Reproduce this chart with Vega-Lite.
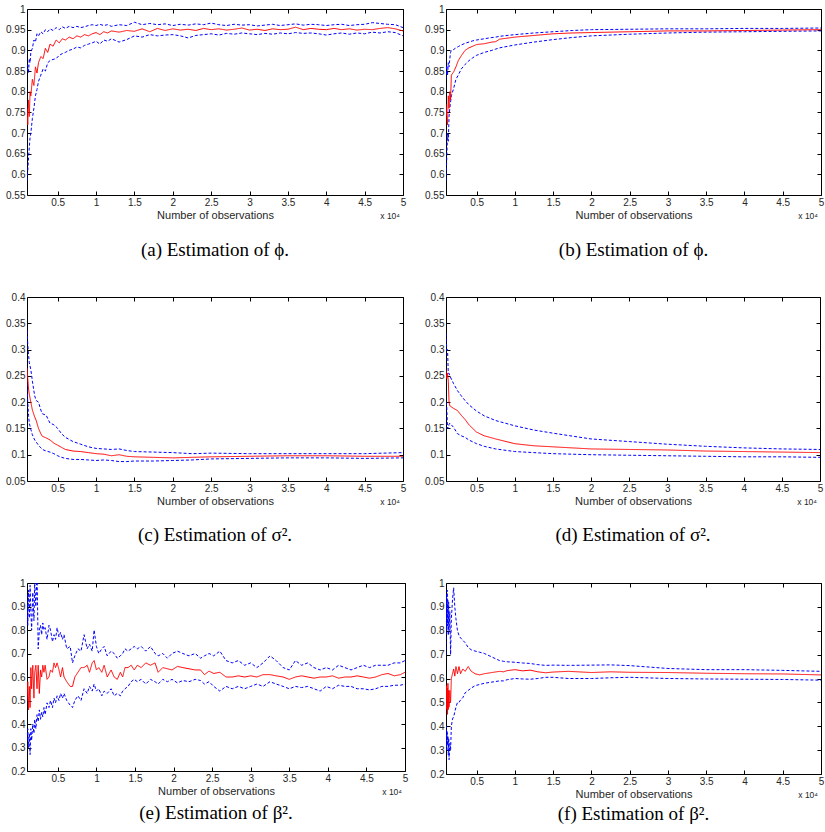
{
"$schema": "https://vega.github.io/schema/vega-lite/v6.json",
"padding": {"left": 5, "top": 3, "right": 2, "bottom": 2},
"background": "white",
"datasets": {
"a": [
{"n":1000,"m":0.760,"hi":0.850,"lo":0.585},{"n":1100,"m":0.720,"hi":0.865,"lo":0.610},{"n":1200,"m":0.780,"hi":0.845,"lo":0.640},{"n":1300,"m":0.740,"hi":0.880,"lo":0.665},{"n":1400,"m":0.800,"hi":0.870,"lo":0.690},{"n":1500,"m":0.790,"hi":0.895,"lo":0.700},{"n":1700,"m":0.830,"hi":0.905,"lo":0.735},{"n":1900,"m":0.815,"hi":0.925,"lo":0.760},{"n":2100,"m":0.860,"hi":0.920,"lo":0.790},{"n":2300,"m":0.845,"hi":0.940,"lo":0.805},{"n":2500,"m":0.870,"hi":0.935,"lo":0.825},{"n":2800,"m":0.885,"hi":0.945,"lo":0.840},{"n":3100,"m":0.880,"hi":0.940,"lo":0.855},{"n":3400,"m":0.905,"hi":0.950,"lo":0.850},{"n":3700,"m":0.895,"hi":0.945,"lo":0.870},{"n":4000,"m":0.915,"hi":0.952,"lo":0.875},{"n":4400,"m":0.910,"hi":0.948,"lo":0.878},{"n":4800,"m":0.925,"hi":0.955,"lo":0.880},{"n":5200,"m":0.918,"hi":0.950,"lo":0.888},{"n":5600,"m":0.928,"hi":0.957,"lo":0.892},{"n":6000,"m":0.925,"hi":0.953,"lo":0.895},{"n":6500,"m":0.932,"hi":0.958,"lo":0.900},{"n":7000,"m":0.928,"hi":0.955,"lo":0.903},{"n":7500,"m":0.935,"hi":0.958,"lo":0.908},{"n":8000,"m":0.932,"hi":0.955,"lo":0.906},{"n":8500,"m":0.938,"hi":0.957,"lo":0.912},{"n":9000,"m":0.935,"hi":0.960,"lo":0.915},{"n":9500,"m":0.940,"hi":0.962,"lo":0.918},{"n":10000,"m":0.943,"hi":0.960,"lo":0.922},{"n":10500,"m":0.938,"hi":0.963,"lo":0.915},{"n":11000,"m":0.945,"hi":0.960,"lo":0.925},{"n":11500,"m":0.942,"hi":0.962,"lo":0.922},{"n":12000,"m":0.947,"hi":0.958,"lo":0.928},{"n":13000,"m":0.944,"hi":0.962,"lo":0.920},{"n":14000,"m":0.948,"hi":0.960,"lo":0.926},{"n":15000,"m":0.946,"hi":0.968,"lo":0.935},{"n":16000,"m":0.952,"hi":0.962,"lo":0.932},{"n":17000,"m":0.945,"hi":0.965,"lo":0.938},{"n":18000,"m":0.953,"hi":0.962,"lo":0.935},{"n":19000,"m":0.948,"hi":0.964,"lo":0.937},{"n":20000,"m":0.952,"hi":0.960,"lo":0.938},{"n":21000,"m":0.949,"hi":0.963,"lo":0.935},{"n":22000,"m":0.951,"hi":0.961,"lo":0.930},{"n":23000,"m":0.948,"hi":0.964,"lo":0.936},{"n":24000,"m":0.953,"hi":0.962,"lo":0.938},{"n":25000,"m":0.950,"hi":0.966,"lo":0.940},{"n":26000,"m":0.952,"hi":0.962,"lo":0.937},{"n":27000,"m":0.949,"hi":0.960,"lo":0.941},{"n":28000,"m":0.951,"hi":0.963,"lo":0.939},{"n":29000,"m":0.954,"hi":0.961,"lo":0.942},{"n":30000,"m":0.949,"hi":0.962,"lo":0.940},{"n":31000,"m":0.951,"hi":0.959,"lo":0.938},{"n":32000,"m":0.948,"hi":0.961,"lo":0.941},{"n":33000,"m":0.952,"hi":0.963,"lo":0.939},{"n":34000,"m":0.950,"hi":0.960,"lo":0.942},{"n":35000,"m":0.951,"hi":0.962,"lo":0.940},{"n":36000,"m":0.956,"hi":0.964,"lo":0.943},{"n":37000,"m":0.950,"hi":0.961,"lo":0.941},{"n":38000,"m":0.953,"hi":0.963,"lo":0.942},{"n":39000,"m":0.951,"hi":0.962,"lo":0.940},{"n":40000,"m":0.950,"hi":0.960,"lo":0.937},{"n":41000,"m":0.953,"hi":0.962,"lo":0.940},{"n":42000,"m":0.950,"hi":0.963,"lo":0.942},{"n":43000,"m":0.952,"hi":0.960,"lo":0.939},{"n":44000,"m":0.949,"hi":0.962,"lo":0.942},{"n":45000,"m":0.951,"hi":0.963,"lo":0.940},{"n":46000,"m":0.950,"hi":0.967,"lo":0.944},{"n":47000,"m":0.953,"hi":0.965,"lo":0.942},{"n":48000,"m":0.955,"hi":0.963,"lo":0.945},{"n":49000,"m":0.952,"hi":0.962,"lo":0.943},{"n":50000,"m":0.947,"hi":0.955,"lo":0.935}
],
"b": [
{"n":1000,"m":0.770,"hi":0.830,"lo":0.585},{"n":1100,"m":0.740,"hi":0.865,"lo":0.640},{"n":1200,"m":0.720,"hi":0.840,"lo":0.700},{"n":1300,"m":0.790,"hi":0.870,"lo":0.680},{"n":1400,"m":0.760,"hi":0.860,"lo":0.740},{"n":1500,"m":0.800,"hi":0.880,"lo":0.760},{"n":1600,"m":0.780,"hi":0.895,"lo":0.775},{"n":1700,"m":0.840,"hi":0.900,"lo":0.790},{"n":2000,"m":0.848,"hi":0.902,"lo":0.808},{"n":2300,"m":0.860,"hi":0.906,"lo":0.830},{"n":2600,"m":0.875,"hi":0.909,"lo":0.840},{"n":3000,"m":0.887,"hi":0.913,"lo":0.855},{"n":3500,"m":0.900,"hi":0.917,"lo":0.866},{"n":4000,"m":0.906,"hi":0.920,"lo":0.875},{"n":4500,"m":0.910,"hi":0.923,"lo":0.882},{"n":5000,"m":0.914,"hi":0.925,"lo":0.888},{"n":6000,"m":0.916,"hi":0.928,"lo":0.895},{"n":7000,"m":0.920,"hi":0.931,"lo":0.900},{"n":7500,"m":0.921,"hi":0.932,"lo":0.903},{"n":8000,"m":0.927,"hi":0.934,"lo":0.906},{"n":10000,"m":0.932,"hi":0.938,"lo":0.913},{"n":12500,"m":0.936,"hi":0.942,"lo":0.920},{"n":15000,"m":0.940,"hi":0.945,"lo":0.926},{"n":17500,"m":0.942,"hi":0.948,"lo":0.931},{"n":20000,"m":0.943,"hi":0.950,"lo":0.935},{"n":25000,"m":0.945,"hi":0.951,"lo":0.939},{"n":30000,"m":0.947,"hi":0.952,"lo":0.942},{"n":35000,"m":0.947,"hi":0.952,"lo":0.944},{"n":40000,"m":0.948,"hi":0.953,"lo":0.945},{"n":45000,"m":0.949,"hi":0.953,"lo":0.946},{"n":50000,"m":0.950,"hi":0.954,"lo":0.947}
],
"c": [
{"n":1000,"m":0.265,"hi":0.335,"lo":0.235},{"n":1100,"m":0.245,"hi":0.310,"lo":0.200},{"n":1200,"m":0.225,"hi":0.290,"lo":0.175},{"n":1300,"m":0.215,"hi":0.275,"lo":0.160},{"n":1500,"m":0.200,"hi":0.262,"lo":0.148},{"n":1700,"m":0.185,"hi":0.240,"lo":0.138},{"n":2000,"m":0.172,"hi":0.212,"lo":0.128},{"n":2200,"m":0.165,"hi":0.203,"lo":0.124},{"n":2500,"m":0.150,"hi":0.200,"lo":0.118},{"n":2800,"m":0.140,"hi":0.185,"lo":0.113},{"n":3000,"m":0.135,"hi":0.178,"lo":0.110},{"n":3500,"m":0.132,"hi":0.175,"lo":0.107},{"n":4000,"m":0.128,"hi":0.160,"lo":0.105},{"n":4500,"m":0.122,"hi":0.157,"lo":0.102},{"n":5000,"m":0.118,"hi":0.150,"lo":0.098},{"n":5500,"m":0.114,"hi":0.140,"lo":0.095},{"n":6000,"m":0.110,"hi":0.133,"lo":0.093},{"n":7000,"m":0.107,"hi":0.125,"lo":0.091},{"n":8000,"m":0.106,"hi":0.120,"lo":0.091},{"n":9000,"m":0.104,"hi":0.115,"lo":0.090},{"n":10000,"m":0.102,"hi":0.112,"lo":0.089},{"n":11000,"m":0.101,"hi":0.111,"lo":0.090},{"n":12000,"m":0.098,"hi":0.110,"lo":0.089},{"n":13000,"m":0.100,"hi":0.111,"lo":0.087},{"n":14000,"m":0.097,"hi":0.108,"lo":0.087},{"n":15000,"m":0.096,"hi":0.106,"lo":0.088},{"n":17500,"m":0.095,"hi":0.105,"lo":0.088},{"n":20000,"m":0.094,"hi":0.104,"lo":0.089},{"n":22500,"m":0.095,"hi":0.102,"lo":0.090},{"n":25000,"m":0.096,"hi":0.103,"lo":0.092},{"n":30000,"m":0.097,"hi":0.102,"lo":0.093},{"n":35000,"m":0.098,"hi":0.102,"lo":0.094},{"n":40000,"m":0.098,"hi":0.102,"lo":0.094},{"n":45000,"m":0.097,"hi":0.102,"lo":0.093},{"n":50000,"m":0.097,"hi":0.104,"lo":0.094}
],
"d": [
{"n":1000,"m":0.262,"hi":0.330,"lo":0.200},{"n":1100,"m":0.245,"hi":0.300,"lo":0.190},{"n":1200,"m":0.255,"hi":0.300,"lo":0.150},{"n":1300,"m":0.240,"hi":0.255,"lo":0.150},{"n":1400,"m":0.200,"hi":0.255,"lo":0.158},{"n":1500,"m":0.193,"hi":0.250,"lo":0.160},{"n":2000,"m":0.188,"hi":0.235,"lo":0.152},{"n":2500,"m":0.184,"hi":0.222,"lo":0.140},{"n":3000,"m":0.175,"hi":0.212,"lo":0.136},{"n":3500,"m":0.167,"hi":0.203,"lo":0.133},{"n":4000,"m":0.157,"hi":0.195,"lo":0.128},{"n":5000,"m":0.143,"hi":0.183,"lo":0.121},{"n":6000,"m":0.136,"hi":0.174,"lo":0.116},{"n":7500,"m":0.130,"hi":0.165,"lo":0.111},{"n":10000,"m":0.121,"hi":0.155,"lo":0.106},{"n":12500,"m":0.117,"hi":0.147,"lo":0.104},{"n":15000,"m":0.115,"hi":0.141,"lo":0.102},{"n":20000,"m":0.111,"hi":0.130,"lo":0.100},{"n":25000,"m":0.110,"hi":0.125,"lo":0.099},{"n":30000,"m":0.109,"hi":0.120,"lo":0.098},{"n":35000,"m":0.107,"hi":0.116,"lo":0.097},{"n":40000,"m":0.106,"hi":0.113,"lo":0.096},{"n":45000,"m":0.105,"hi":0.111,"lo":0.096},{"n":50000,"m":0.104,"hi":0.110,"lo":0.095}
],
"e": [
{"n":1000,"m":0.50,"hi":0.95,"lo":0.33},{"n":1100,"m":0.58,"hi":0.82,"lo":0.38},{"n":1200,"m":0.46,"hi":0.97,"lo":0.30},{"n":1300,"m":0.56,"hi":0.85,"lo":0.36},{"n":1400,"m":0.47,"hi":0.99,"lo":0.27},{"n":1500,"m":0.64,"hi":0.88,"lo":0.38},{"n":1600,"m":0.55,"hi":0.80,"lo":0.33},{"n":1750,"m":0.65,"hi":0.96,"lo":0.40},{"n":1900,"m":0.51,"hi":0.84,"lo":0.36},{"n":2000,"m":0.62,"hi":1.00,"lo":0.42},{"n":2150,"m":0.65,"hi":0.90,"lo":0.38},{"n":2300,"m":0.55,"hi":1.05,"lo":0.44},{"n":2450,"m":0.65,"hi":0.72,"lo":0.41},{"n":2600,"m":0.53,"hi":0.80,"lo":0.46},{"n":2750,"m":0.63,"hi":0.82,"lo":0.42},{"n":2900,"m":0.60,"hi":0.78,"lo":0.45},{"n":3050,"m":0.65,"hi":0.83,"lo":0.43},{"n":3200,"m":0.62,"hi":0.80,"lo":0.47},{"n":3350,"m":0.65,"hi":0.81,"lo":0.44},{"n":3600,"m":0.59,"hi":0.76,"lo":0.49},{"n":3850,"m":0.60,"hi":0.82,"lo":0.47},{"n":4050,"m":0.63,"hi":0.80,"lo":0.50},{"n":4300,"m":0.62,"hi":0.75,"lo":0.47},{"n":4500,"m":0.66,"hi":0.78,"lo":0.51},{"n":4700,"m":0.64,"hi":0.76,"lo":0.49},{"n":4900,"m":0.66,"hi":0.81,"lo":0.52},{"n":5150,"m":0.63,"hi":0.77,"lo":0.50},{"n":5350,"m":0.60,"hi":0.79,"lo":0.53},{"n":5600,"m":0.64,"hi":0.76,"lo":0.51},{"n":5800,"m":0.60,"hi":0.78,"lo":0.53},{"n":6150,"m":0.58,"hi":0.72,"lo":0.50},{"n":6600,"m":0.56,"hi":0.73,"lo":0.48},{"n":6900,"m":0.56,"hi":0.66,"lo":0.47},{"n":7200,"m":0.60,"hi":0.69,"lo":0.50},{"n":7600,"m":0.62,"hi":0.72,"lo":0.52},{"n":8000,"m":0.64,"hi":0.71,"lo":0.50},{"n":8400,"m":0.64,"hi":0.78,"lo":0.55},{"n":8800,"m":0.65,"hi":0.72,"lo":0.53},{"n":9100,"m":0.62,"hi":0.74,"lo":0.56},{"n":9450,"m":0.66,"hi":0.71,"lo":0.54},{"n":9700,"m":0.67,"hi":0.80,"lo":0.57},{"n":10000,"m":0.63,"hi":0.73,"lo":0.54},{"n":10300,"m":0.64,"hi":0.70,"lo":0.55},{"n":10700,"m":0.62,"hi":0.72,"lo":0.52},{"n":11000,"m":0.65,"hi":0.73,"lo":0.54},{"n":11400,"m":0.60,"hi":0.69,"lo":0.53},{"n":11900,"m":0.63,"hi":0.71,"lo":0.55},{"n":12300,"m":0.60,"hi":0.70,"lo":0.52},{"n":12700,"m":0.59,"hi":0.68,"lo":0.53},{"n":13100,"m":0.62,"hi":0.69,"lo":0.52},{"n":13400,"m":0.60,"hi":0.70,"lo":0.54},{"n":13700,"m":0.64,"hi":0.72,"lo":0.55},{"n":14100,"m":0.64,"hi":0.71,"lo":0.56},{"n":14500,"m":0.65,"hi":0.72,"lo":0.58},{"n":14900,"m":0.63,"hi":0.73,"lo":0.59},{"n":15300,"m":0.65,"hi":0.72,"lo":0.58},{"n":15800,"m":0.64,"hi":0.73,"lo":0.59},{"n":16400,"m":0.66,"hi":0.71,"lo":0.57},{"n":17000,"m":0.65,"hi":0.73,"lo":0.59},{"n":17600,"m":0.66,"hi":0.70,"lo":0.58},{"n":18000,"m":0.62,"hi":0.69,"lo":0.57},{"n":18600,"m":0.64,"hi":0.70,"lo":0.59},{"n":19200,"m":0.635,"hi":0.68,"lo":0.58},{"n":19800,"m":0.63,"hi":0.70,"lo":0.59},{"n":20500,"m":0.645,"hi":0.71,"lo":0.575},{"n":21200,"m":0.64,"hi":0.70,"lo":0.585},{"n":22000,"m":0.635,"hi":0.69,"lo":0.58},{"n":22800,"m":0.63,"hi":0.70,"lo":0.59},{"n":23500,"m":0.63,"hi":0.68,"lo":0.585},{"n":24000,"m":0.61,"hi":0.69,"lo":0.57},{"n":24600,"m":0.625,"hi":0.70,"lo":0.58},{"n":25200,"m":0.615,"hi":0.69,"lo":0.56},{"n":26000,"m":0.62,"hi":0.71,"lo":0.54},{"n":26800,"m":0.60,"hi":0.67,"lo":0.56},{"n":27600,"m":0.60,"hi":0.66,"lo":0.55},{"n":28400,"m":0.605,"hi":0.67,"lo":0.56},{"n":29200,"m":0.60,"hi":0.65,"lo":0.55},{"n":30000,"m":0.605,"hi":0.66,"lo":0.56},{"n":30800,"m":0.60,"hi":0.64,"lo":0.57},{"n":31600,"m":0.61,"hi":0.66,"lo":0.56},{"n":32500,"m":0.61,"hi":0.69,"lo":0.58},{"n":33300,"m":0.605,"hi":0.67,"lo":0.57},{"n":34200,"m":0.60,"hi":0.64,"lo":0.56},{"n":35000,"m":0.59,"hi":0.63,"lo":0.55},{"n":35800,"m":0.60,"hi":0.67,"lo":0.56},{"n":36600,"m":0.605,"hi":0.65,"lo":0.555},{"n":37400,"m":0.60,"hi":0.66,"lo":0.56},{"n":38200,"m":0.595,"hi":0.64,"lo":0.55},{"n":39000,"m":0.60,"hi":0.63,"lo":0.54},{"n":39800,"m":0.60,"hi":0.64,"lo":0.56},{"n":40600,"m":0.605,"hi":0.63,"lo":0.55},{"n":41400,"m":0.595,"hi":0.65,"lo":0.565},{"n":42200,"m":0.60,"hi":0.64,"lo":0.56},{"n":43000,"m":0.60,"hi":0.63,"lo":0.56},{"n":43800,"m":0.605,"hi":0.64,"lo":0.55},{"n":44600,"m":0.60,"hi":0.65,"lo":0.55},{"n":45400,"m":0.595,"hi":0.64,"lo":0.545},{"n":46200,"m":0.60,"hi":0.65,"lo":0.55},{"n":47000,"m":0.61,"hi":0.65,"lo":0.56},{"n":47800,"m":0.615,"hi":0.65,"lo":0.56},{"n":48600,"m":0.605,"hi":0.66,"lo":0.565},{"n":49400,"m":0.61,"hi":0.66,"lo":0.565},{"n":50000,"m":0.62,"hi":0.67,"lo":0.57}
],
"f": [
{"n":1000,"m":0.50,"hi":0.70,"lo":0.33},{"n":1050,"m":0.57,"hi":0.95,"lo":0.40},{"n":1100,"m":0.47,"hi":0.80,"lo":0.30},{"n":1150,"m":0.56,"hi":0.97,"lo":0.38},{"n":1200,"m":0.45,"hi":0.82,"lo":0.32},{"n":1250,"m":0.58,"hi":0.93,"lo":0.36},{"n":1300,"m":0.47,"hi":0.78,"lo":0.28},{"n":1350,"m":0.55,"hi":0.92,"lo":0.35},{"n":1400,"m":0.48,"hi":0.80,"lo":0.26},{"n":1500,"m":0.55,"hi":0.88,"lo":0.33},{"n":1600,"m":0.50,"hi":0.70,"lo":0.30},{"n":1700,"m":0.60,"hi":0.85,"lo":0.40},{"n":1850,"m":0.62,"hi":0.93,"lo":0.43},{"n":2000,"m":0.64,"hi":0.98,"lo":0.44},{"n":2150,"m":0.61,"hi":0.90,"lo":0.46},{"n":2300,"m":0.65,"hi":0.85,"lo":0.48},{"n":2500,"m":0.62,"hi":0.80,"lo":0.50},{"n":2700,"m":0.65,"hi":0.78,"lo":0.50},{"n":2900,"m":0.62,"hi":0.77,"lo":0.51},{"n":3200,"m":0.64,"hi":0.76,"lo":0.52},{"n":3500,"m":0.63,"hi":0.75,"lo":0.54},{"n":3900,"m":0.65,"hi":0.73,"lo":0.55},{"n":4300,"m":0.63,"hi":0.72,"lo":0.56},{"n":4800,"m":0.62,"hi":0.715,"lo":0.57},{"n":5400,"m":0.615,"hi":0.71,"lo":0.575},{"n":6000,"m":0.62,"hi":0.705,"lo":0.58},{"n":7000,"m":0.625,"hi":0.69,"lo":0.585},{"n":8000,"m":0.63,"hi":0.675,"lo":0.59},{"n":8500,"m":0.628,"hi":0.672,"lo":0.59},{"n":9000,"m":0.633,"hi":0.67,"lo":0.595},{"n":10000,"m":0.637,"hi":0.668,"lo":0.60},{"n":11000,"m":0.632,"hi":0.665,"lo":0.598},{"n":12000,"m":0.635,"hi":0.663,"lo":0.597},{"n":13000,"m":0.628,"hi":0.658,"lo":0.60},{"n":14000,"m":0.624,"hi":0.655,"lo":0.605},{"n":15000,"m":0.627,"hi":0.656,"lo":0.605},{"n":17000,"m":0.63,"hi":0.655,"lo":0.60},{"n":20000,"m":0.625,"hi":0.656,"lo":0.600},{"n":22500,"m":0.628,"hi":0.657,"lo":0.603},{"n":25000,"m":0.626,"hi":0.654,"lo":0.605},{"n":30000,"m":0.625,"hi":0.642,"lo":0.600},{"n":35000,"m":0.622,"hi":0.637,"lo":0.598},{"n":40000,"m":0.620,"hi":0.637,"lo":0.597},{"n":45000,"m":0.619,"hi":0.634,"lo":0.596},{"n":50000,"m":0.615,"hi":0.630,"lo":0.593}
]
},
"concat": [
 {"width": 376, "height": 186, "title": {"text": "(a) Estimation of ϕ.", "offset": 20},
  "layer": [
   {"data": {"name": "a"}, "transform": [{"fold": ["lo","m","hi"], "as": ["s","v"]}],
    "mark": {"type": "line", "strokeWidth": 1, "clip": true},
    "encoding": {
     "x": {"field": "n", "type": "quantitative", "scale": {"domain": [1000,50000], "nice": false, "zero": false}, "axis": {"values": [5000,10000,15000,20000,25000,30000,35000,40000,45000,50000], "labelExpr": "datum.value/10000", "title": "Number of observations"}},
     "y": {"field": "v", "type": "quantitative", "scale": {"domain": [0.55,1], "nice": false, "zero": false}, "axis": {"values": [0.55,0.6,0.65,0.7,0.75,0.8,0.85,0.9,0.95,1], "format": "~g", "title": null}},
     "color": {"field": "s", "type": "nominal", "scale": {"domain": ["lo","m","hi"], "range": ["#0000ff","#ff0000","#0000ff"]}, "legend": null},
     "strokeDash": {"field": "s", "type": "nominal", "scale": {"domain": ["lo","m","hi"], "range": [[3,2],[1,0],[3,2]]}, "legend": null}}},
   {"data": {"values": [{"n":1000,"v":0.55},{"n":50000,"v":1}]}, "mark": {"type": "point", "opacity": 0},
    "encoding": {
     "x": {"field": "n", "type": "quantitative", "axis": {"orient": "top", "values": [5000,10000,15000,20000,25000,30000,35000,40000,45000,50000], "labels": false, "title": null}},
     "y": {"field": "v", "type": "quantitative", "axis": {"orient": "right", "values": [0.55,0.6,0.65,0.7,0.75,0.8,0.85,0.9,0.95,1], "labels": false, "title": null}}}},
   {"data": {"values": [{"t": "x 10⁴"}]}, "mark": {"type": "text", "align": "right", "baseline": "middle", "dx": -3, "dy": 21, "fontSize": 8.5, "font": "Liberation Sans", "color": "#262626"},
    "encoding": {"x": {"datum": 50000, "axis": null}, "y": {"datum": 0.55, "axis": null}, "text": {"field": "t"}}}
  ],
  "resolve": {"axis": {"x": "independent", "y": "independent"}}},
 {"width": 375, "height": 186, "title": {"text": "(b) Estimation of ϕ.", "offset": 20},
  "layer": [
   {"data": {"name": "b"}, "transform": [{"fold": ["lo","m","hi"], "as": ["s","v"]}],
    "mark": {"type": "line", "strokeWidth": 1, "clip": true},
    "encoding": {
     "x": {"field": "n", "type": "quantitative", "scale": {"domain": [1000,50000], "nice": false, "zero": false}, "axis": {"values": [5000,10000,15000,20000,25000,30000,35000,40000,45000,50000], "labelExpr": "datum.value/10000", "title": "Number of observations"}},
     "y": {"field": "v", "type": "quantitative", "scale": {"domain": [0.55,1], "nice": false, "zero": false}, "axis": {"values": [0.55,0.6,0.65,0.7,0.75,0.8,0.85,0.9,0.95,1], "format": "~g", "title": null}},
     "color": {"field": "s", "type": "nominal", "scale": {"domain": ["lo","m","hi"], "range": ["#0000ff","#ff0000","#0000ff"]}, "legend": null},
     "strokeDash": {"field": "s", "type": "nominal", "scale": {"domain": ["lo","m","hi"], "range": [[3,2],[1,0],[3,2]]}, "legend": null}}},
   {"data": {"values": [{"n":1000,"v":0.55},{"n":50000,"v":1}]}, "mark": {"type": "point", "opacity": 0},
    "encoding": {
     "x": {"field": "n", "type": "quantitative", "axis": {"orient": "top", "values": [5000,10000,15000,20000,25000,30000,35000,40000,45000,50000], "labels": false, "title": null}},
     "y": {"field": "v", "type": "quantitative", "axis": {"orient": "right", "values": [0.55,0.6,0.65,0.7,0.75,0.8,0.85,0.9,0.95,1], "labels": false, "title": null}}}},
   {"data": {"values": [{"t": "x 10⁴"}]}, "mark": {"type": "text", "align": "right", "baseline": "middle", "dx": -3, "dy": 21, "fontSize": 8.5, "font": "Liberation Sans", "color": "#262626"},
    "encoding": {"x": {"datum": 50000, "axis": null}, "y": {"datum": 0.55, "axis": null}, "text": {"field": "t"}}}
  ],
  "resolve": {"axis": {"x": "independent", "y": "independent"}}},
 {"width": 376, "height": 184, "title": {"text": "(c) Estimation of σ².", "offset": 19},
  "layer": [
   {"data": {"name": "c"}, "transform": [{"fold": ["lo","m","hi"], "as": ["s","v"]}],
    "mark": {"type": "line", "strokeWidth": 1, "clip": true},
    "encoding": {
     "x": {"field": "n", "type": "quantitative", "scale": {"domain": [1000,50000], "nice": false, "zero": false}, "axis": {"values": [5000,10000,15000,20000,25000,30000,35000,40000,45000,50000], "labelExpr": "datum.value/10000", "title": "Number of observations"}},
     "y": {"field": "v", "type": "quantitative", "scale": {"domain": [0.05,0.4], "nice": false, "zero": false}, "axis": {"values": [0.05,0.1,0.15,0.2,0.25,0.3,0.35,0.4], "format": "~g", "title": null}},
     "color": {"field": "s", "type": "nominal", "scale": {"domain": ["lo","m","hi"], "range": ["#0000ff","#ff0000","#0000ff"]}, "legend": null},
     "strokeDash": {"field": "s", "type": "nominal", "scale": {"domain": ["lo","m","hi"], "range": [[3,2],[1,0],[3,2]]}, "legend": null}}},
   {"data": {"values": [{"n":1000,"v":0.05},{"n":50000,"v":0.4}]}, "mark": {"type": "point", "opacity": 0},
    "encoding": {
     "x": {"field": "n", "type": "quantitative", "axis": {"orient": "top", "values": [5000,10000,15000,20000,25000,30000,35000,40000,45000,50000], "labels": false, "title": null}},
     "y": {"field": "v", "type": "quantitative", "axis": {"orient": "right", "values": [0.05,0.1,0.15,0.2,0.25,0.3,0.35,0.4], "labels": false, "title": null}}}},
   {"data": {"values": [{"t": "x 10⁴"}]}, "mark": {"type": "text", "align": "right", "baseline": "middle", "dx": -3, "dy": 21, "fontSize": 8.5, "font": "Liberation Sans", "color": "#262626"},
    "encoding": {"x": {"datum": 50000, "axis": null}, "y": {"datum": 0.05, "axis": null}, "text": {"field": "t"}}}
  ],
  "resolve": {"axis": {"x": "independent", "y": "independent"}}},
 {"width": 374, "height": 184, "title": {"text": "(d) Estimation of σ².", "offset": 19},
  "layer": [
   {"data": {"name": "d"}, "transform": [{"fold": ["lo","m","hi"], "as": ["s","v"]}],
    "mark": {"type": "line", "strokeWidth": 1, "clip": true},
    "encoding": {
     "x": {"field": "n", "type": "quantitative", "scale": {"domain": [1000,50000], "nice": false, "zero": false}, "axis": {"values": [5000,10000,15000,20000,25000,30000,35000,40000,45000,50000], "labelExpr": "datum.value/10000", "title": "Number of observations"}},
     "y": {"field": "v", "type": "quantitative", "scale": {"domain": [0.05,0.4], "nice": false, "zero": false}, "axis": {"values": [0.05,0.1,0.15,0.2,0.25,0.3,0.35,0.4], "format": "~g", "title": null}},
     "color": {"field": "s", "type": "nominal", "scale": {"domain": ["lo","m","hi"], "range": ["#0000ff","#ff0000","#0000ff"]}, "legend": null},
     "strokeDash": {"field": "s", "type": "nominal", "scale": {"domain": ["lo","m","hi"], "range": [[3,2],[1,0],[3,2]]}, "legend": null}}},
   {"data": {"values": [{"n":1000,"v":0.05},{"n":50000,"v":0.4}]}, "mark": {"type": "point", "opacity": 0},
    "encoding": {
     "x": {"field": "n", "type": "quantitative", "axis": {"orient": "top", "values": [5000,10000,15000,20000,25000,30000,35000,40000,45000,50000], "labels": false, "title": null}},
     "y": {"field": "v", "type": "quantitative", "axis": {"orient": "right", "values": [0.05,0.1,0.15,0.2,0.25,0.3,0.35,0.4], "labels": false, "title": null}}}},
   {"data": {"values": [{"t": "x 10⁴"}]}, "mark": {"type": "text", "align": "right", "baseline": "middle", "dx": -3, "dy": 21, "fontSize": 8.5, "font": "Liberation Sans", "color": "#262626"},
    "encoding": {"x": {"datum": 50000, "axis": null}, "y": {"datum": 0.05, "axis": null}, "text": {"field": "t"}}}
  ],
  "resolve": {"axis": {"x": "independent", "y": "independent"}}},
 {"width": 378, "height": 188, "title": {"text": "(e) Estimation of β².", "offset": 7},
  "layer": [
   {"data": {"name": "e"}, "transform": [{"fold": ["lo","m","hi"], "as": ["s","v"]}],
    "mark": {"type": "line", "strokeWidth": 1, "clip": true},
    "encoding": {
     "x": {"field": "n", "type": "quantitative", "scale": {"domain": [1000,50000], "nice": false, "zero": false}, "axis": {"values": [5000,10000,15000,20000,25000,30000,35000,40000,45000,50000], "labelExpr": "datum.value/10000", "title": "Number of observations"}},
     "y": {"field": "v", "type": "quantitative", "scale": {"domain": [0.2,1], "nice": false, "zero": false}, "axis": {"values": [0.2,0.3,0.4,0.5,0.6,0.7,0.8,0.9,1], "format": "~g", "title": null}},
     "color": {"field": "s", "type": "nominal", "scale": {"domain": ["lo","m","hi"], "range": ["#0000ff","#ff0000","#0000ff"]}, "legend": null},
     "strokeDash": {"field": "s", "type": "nominal", "scale": {"domain": ["lo","m","hi"], "range": [[3,2],[1,0],[3,2]]}, "legend": null}}},
   {"data": {"values": [{"n":1000,"v":0.2},{"n":50000,"v":1}]}, "mark": {"type": "point", "opacity": 0},
    "encoding": {
     "x": {"field": "n", "type": "quantitative", "axis": {"orient": "top", "values": [5000,10000,15000,20000,25000,30000,35000,40000,45000,50000], "labels": false, "title": null}},
     "y": {"field": "v", "type": "quantitative", "axis": {"orient": "right", "values": [0.2,0.3,0.4,0.5,0.6,0.7,0.8,0.9,1], "labels": false, "title": null}}}},
   {"data": {"values": [{"t": "x 10⁴"}]}, "mark": {"type": "text", "align": "right", "baseline": "middle", "dx": -3, "dy": 21, "fontSize": 8.5, "font": "Liberation Sans", "color": "#262626"},
    "encoding": {"x": {"datum": 50000, "axis": null}, "y": {"datum": 0.2, "axis": null}, "text": {"field": "t"}}}
  ],
  "resolve": {"axis": {"x": "independent", "y": "independent"}}},
 {"width": 375, "height": 191, "title": {"text": "(f) Estimation of β².", "offset": 5},
  "layer": [
   {"data": {"name": "f"}, "transform": [{"fold": ["lo","m","hi"], "as": ["s","v"]}],
    "mark": {"type": "line", "strokeWidth": 1, "clip": true},
    "encoding": {
     "x": {"field": "n", "type": "quantitative", "scale": {"domain": [1000,50000], "nice": false, "zero": false}, "axis": {"values": [5000,10000,15000,20000,25000,30000,35000,40000,45000,50000], "labelExpr": "datum.value/10000", "title": "Number of observations"}},
     "y": {"field": "v", "type": "quantitative", "scale": {"domain": [0.2,1], "nice": false, "zero": false}, "axis": {"values": [0.2,0.3,0.4,0.5,0.6,0.7,0.8,0.9,1], "format": "~g", "title": null}},
     "color": {"field": "s", "type": "nominal", "scale": {"domain": ["lo","m","hi"], "range": ["#0000ff","#ff0000","#0000ff"]}, "legend": null},
     "strokeDash": {"field": "s", "type": "nominal", "scale": {"domain": ["lo","m","hi"], "range": [[3,2],[1,0],[3,2]]}, "legend": null}}},
   {"data": {"values": [{"n":1000,"v":0.2},{"n":50000,"v":1}]}, "mark": {"type": "point", "opacity": 0},
    "encoding": {
     "x": {"field": "n", "type": "quantitative", "axis": {"orient": "top", "values": [5000,10000,15000,20000,25000,30000,35000,40000,45000,50000], "labels": false, "title": null}},
     "y": {"field": "v", "type": "quantitative", "axis": {"orient": "right", "values": [0.2,0.3,0.4,0.5,0.6,0.7,0.8,0.9,1], "labels": false, "title": null}}}},
   {"data": {"values": [{"t": "x 10⁴"}]}, "mark": {"type": "text", "align": "right", "baseline": "middle", "dx": -3, "dy": 21, "fontSize": 8.5, "font": "Liberation Sans", "color": "#262626"},
    "encoding": {"x": {"datum": 50000, "axis": null}, "y": {"datum": 0.2, "axis": null}, "text": {"field": "t"}}}
  ],
  "resolve": {"axis": {"x": "independent", "y": "independent"}}}
],
"columns": 2,
"spacing": {"row": 102, "column": 41},
"bounds": "flush",
"align": "each",
"config": {
 "view": {"stroke": "#000000", "strokeWidth": 1},
 "axis": {"grid": false, "domain": false, "ticks": true, "tickSize": -4, "tickColor": "#000000", "tickWidth": 1, "labelFont": "Liberation Sans", "labelFontSize": 10, "labelColor": "#262626", "labelPadding": 6, "labelFlush": false, "labelOverlap": false, "titleFont": "Liberation Sans", "titleFontSize": 11, "titleFontWeight": "normal", "titleColor": "#262626", "titlePadding": 2},
 "title": {"orient": "bottom", "anchor": "middle", "offset": 22, "font": "Liberation Serif", "fontSize": 19, "fontWeight": "normal", "color": "#000000"}
}
}
